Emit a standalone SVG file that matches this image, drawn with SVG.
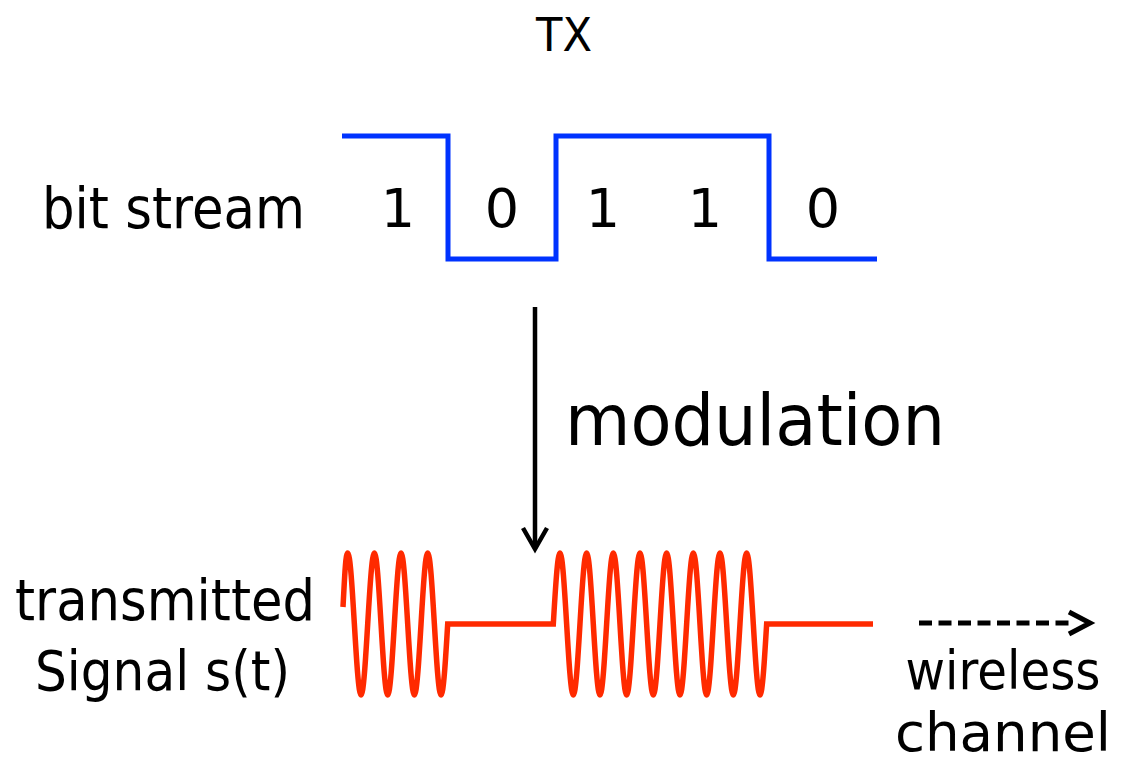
<svg xmlns="http://www.w3.org/2000/svg" width="1122" height="765" viewBox="0 0 1122 765">
  <style>
    .lbl { font-family: "DejaVu Sans", "Liberation Sans", sans-serif; fill: #000; }
    .blue { fill: none; stroke: #0033FF; stroke-width: 5; stroke-linejoin: miter; }
    .red { fill: none; stroke: #FF2A00; stroke-width: 5.5; stroke-linejoin: miter; }
    .arrow { fill: none; stroke: #000; stroke-width: 4.5; }
  </style>
  <rect width="1122" height="765" fill="#fff"/>
  <g id="title">
    <text class="lbl" x="564" y="51" font-size="46" text-anchor="middle" textLength="56" lengthAdjust="spacingAndGlyphs">TX</text>
  </g>
  <g id="bitstream">
    <text class="lbl" x="42" y="228" font-size="57" textLength="263" lengthAdjust="spacingAndGlyphs">bit stream</text>
    <path class="blue" d="M 342,136 H 448 V 259 H 556 V 136 H 769 V 259 H 877"/>
    <g font-size="54" text-anchor="middle">
      <text class="lbl" x="398" y="227">1</text>
      <text class="lbl" x="502" y="227">0</text>
      <text class="lbl" x="603" y="227">1</text>
      <text class="lbl" x="705" y="227">1</text>
      <text class="lbl" x="823" y="227">0</text>
    </g>
  </g>
  <g id="connectors">
    <path class="arrow" d="M 535,307 V 548"/>
    <path class="arrow" d="M 523,528 L 535,549 L 547,528"/>
    <path fill="none" stroke="#000" stroke-width="5" stroke-dasharray="13 6.5" d="M 919,623 H 1072"/>
    <path fill="none" stroke="#000" stroke-width="5" d="M 1069,612 L 1090,623 L 1069,634"/>
  </g>
  <g id="modulation">
    <text class="lbl" x="565" y="445" font-size="72" textLength="380" lengthAdjust="spacingAndGlyphs">modulation</text>
  </g>
  <g id="signal">
    <text class="lbl" x="15" y="620" font-size="57" textLength="300" lengthAdjust="spacingAndGlyphs">transmitted</text>
    <text class="lbl" x="35" y="690" font-size="56" textLength="255" lengthAdjust="spacingAndGlyphs">Signal s(t)</text>
    <path class="red" d="M 343,607 C 344.5,580 345.5,553 347.7,553
      c 2.413,0 4.493,34.63 6.667,71 c 2.174,36.37 4.254,71 6.667,71 c 2.413,0 4.493,-34.63 6.667,-71
      c 2.174,-36.37 4.254,-71 6.667,-71 c 2.413,0 4.493,34.63 6.667,71 c 2.174,36.37 4.254,71 6.667,71 c 2.413,0 4.493,-34.63 6.667,-71
      c 2.174,-36.37 4.254,-71 6.667,-71 c 2.413,0 4.493,34.63 6.667,71 c 2.174,36.37 4.254,71 6.667,71 c 2.413,0 4.493,-34.63 6.667,-71
      c 2.174,-36.37 4.254,-71 6.667,-71 c 2.413,0 4.493,34.63 6.667,71 c 2.174,36.37 4.254,71 6.667,71 c 2.413,0 4.493,-34.63 6.667,-71
      H 553.3
      c 2.174,-36.37 4.254,-71 6.667,-71 c 2.413,0 4.493,34.63 6.667,71 c 2.174,36.37 4.254,71 6.667,71 c 2.413,0 4.493,-34.63 6.667,-71
      c 2.174,-36.37 4.254,-71 6.667,-71 c 2.413,0 4.493,34.63 6.667,71 c 2.174,36.37 4.254,71 6.667,71 c 2.413,0 4.493,-34.63 6.667,-71
      c 2.174,-36.37 4.254,-71 6.667,-71 c 2.413,0 4.493,34.63 6.667,71 c 2.174,36.37 4.254,71 6.667,71 c 2.413,0 4.493,-34.63 6.667,-71
      c 2.174,-36.37 4.254,-71 6.667,-71 c 2.413,0 4.493,34.63 6.667,71 c 2.174,36.37 4.254,71 6.667,71 c 2.413,0 4.493,-34.63 6.667,-71
      c 2.174,-36.37 4.254,-71 6.667,-71 c 2.413,0 4.493,34.63 6.667,71 c 2.174,36.37 4.254,71 6.667,71 c 2.413,0 4.493,-34.63 6.667,-71
      c 2.174,-36.37 4.254,-71 6.667,-71 c 2.413,0 4.493,34.63 6.667,71 c 2.174,36.37 4.254,71 6.667,71 c 2.413,0 4.493,-34.63 6.667,-71
      c 2.174,-36.37 4.254,-71 6.667,-71 c 2.413,0 4.493,34.63 6.667,71 c 2.174,36.37 4.254,71 6.667,71 c 2.413,0 4.493,-34.63 6.667,-71
      c 2.174,-36.37 4.254,-71 6.667,-71 c 2.413,0 4.493,34.63 6.667,71 c 2.174,36.37 4.254,71 6.667,71 c 2.413,0 4.493,-34.63 6.667,-71
      H 873"/>
  </g>
  <g id="channel">
    <text class="lbl" x="1003" y="689" font-size="53" text-anchor="middle" textLength="195" lengthAdjust="spacingAndGlyphs">wireless</text>
    <text class="lbl" x="1003" y="751" font-size="53" text-anchor="middle" textLength="216" lengthAdjust="spacingAndGlyphs">channel</text>
  </g>
</svg>
